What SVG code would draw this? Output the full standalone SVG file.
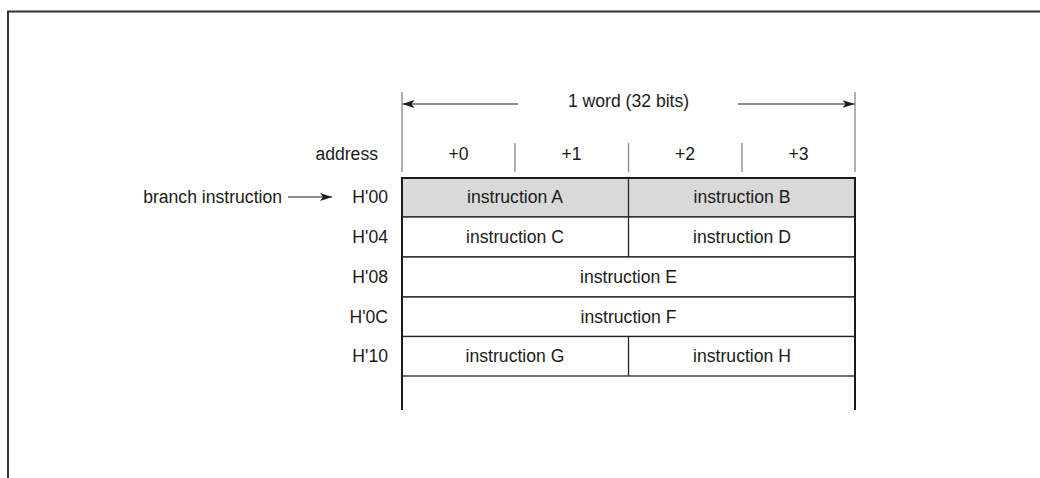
<svg xmlns="http://www.w3.org/2000/svg" width="1040" height="478" viewBox="0 0 1040 478">
<style>
text{font-family:"Liberation Sans",Arial,sans-serif;font-size:17.6px;fill:#1a1a1a}
.c{text-anchor:middle}
.e{text-anchor:end}
.frame{stroke:#333;stroke-width:2;fill:none}
.tick{stroke:#888;stroke-width:1.3;fill:none}
.cell{stroke:#222;stroke-width:1.3}
.outer{stroke:#1a1a1a;stroke-width:2;fill:none}
.dim{stroke:#1a1a1a;stroke-width:1.2;fill:none}
</style>
<defs>
<marker id="ah" viewBox="0 0 12 8" refX="12" refY="4" markerWidth="12" markerHeight="8" markerUnits="userSpaceOnUse" orient="auto">
<path d="M0,0 L12,4 L0,8 L3,4 Z" fill="#1a1a1a"/>
</marker>
</defs>
<rect width="1040" height="478" fill="#fff"/>
<path class="frame" d="M8,478 V11.5 H1040"/>

<g id="connectors">
<line class="tick" x1="402" y1="92" x2="402" y2="172"/>
<line class="tick" x1="855" y1="92" x2="855" y2="172"/>
<line class="dim" x1="518" y1="104" x2="402.5" y2="104" marker-end="url(#ah)"/>
<line class="dim" x1="738" y1="104" x2="854.5" y2="104" marker-end="url(#ah)"/>
<line class="tick" x1="515" y1="143" x2="515" y2="172"/>
<line class="tick" x1="628.5" y1="143" x2="628.5" y2="172"/>
<line class="tick" x1="742" y1="143" x2="742" y2="172"/>
<line class="dim" x1="288" y1="197" x2="332" y2="197" marker-end="url(#ah)"/>
</g>

<g id="header">
<text class="c" x="628.5" y="107">1 word (32 bits)</text>
<text class="e" x="378" y="160">address</text>
<text class="c" x="458.5" y="160">+0</text>
<text class="c" x="571.5" y="160">+1</text>
<text class="c" x="685" y="160">+2</text>
<text class="c" x="798.5" y="160">+3</text>
<text class="e" x="282" y="203">branch instruction</text>
</g>

<g id="row-00">
<rect class="cell" x="402" y="178" width="453" height="39" fill="#d9d9d9"/>
<line class="cell" x1="628.5" y1="178" x2="628.5" y2="217"/>
<text class="e" x="388" y="203">H'00</text>
<text class="c" x="515" y="203">instruction A</text>
<text class="c" x="742" y="203">instruction B</text>
</g>
<g id="row-04">
<rect class="cell" x="402" y="217" width="453" height="40" fill="#fff"/>
<line class="cell" x1="628.5" y1="217" x2="628.5" y2="257"/>
<text class="e" x="388" y="243">H'04</text>
<text class="c" x="515" y="243">instruction C</text>
<text class="c" x="742" y="243">instruction D</text>
</g>
<g id="row-08">
<rect class="cell" x="402" y="257" width="453" height="40" fill="#fff"/>
<text class="e" x="388" y="283">H'08</text>
<text class="c" x="628.5" y="283">instruction E</text>
</g>
<g id="row-0C">
<rect class="cell" x="402" y="297" width="453" height="39.5" fill="#fff"/>
<text class="e" x="388" y="322.5">H'0C</text>
<text class="c" x="628.5" y="322.5">instruction F</text>
</g>
<g id="row-10">
<rect class="cell" x="402" y="336.5" width="453" height="39.5" fill="#fff"/>
<line class="cell" x1="628.5" y1="336.5" x2="628.5" y2="376"/>
<text class="e" x="388" y="362">H'10</text>
<text class="c" x="515" y="362">instruction G</text>
<text class="c" x="742" y="362">instruction H</text>
</g>
<g id="table-outline">
<path class="outer" d="M402,410 V178 H855 V410"/>
</g>
</svg>
